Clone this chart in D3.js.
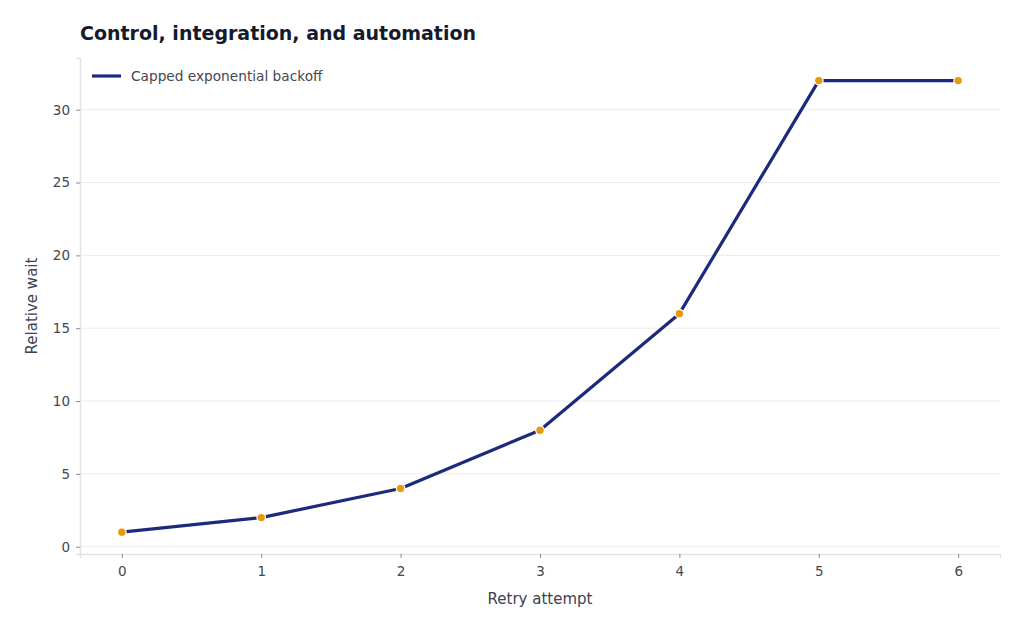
<!DOCTYPE html>
<html>
<head>
<meta charset="utf-8">
<script src="https://cdn.jsdelivr.net/npm/d3@7"></script>
<style>
  body { margin: 0; background: #fff; }
  svg { display: block; font-family: "DejaVu Sans", sans-serif; }
</style>
</head>
<body>
<div id="chart"></div>
<script>
// chart data
const attempts = [0, 1, 2, 3, 4, 5, 6];
const waits = [1, 2, 4, 8, 16, 32, 32];
const xTicks = [0, 1, 2, 3, 4, 5, 6];
const yTicks = [0, 5, 10, 15, 20, 25, 30];
const seriesName = 'Capped exponential backoff';

const W = 1024, H = 631;
const margin = { top: 58, right: 24, bottom: 77, left: 80 },
    width = W - margin.left - margin.right,
    height = H - margin.top - margin.bottom;

const svg = d3.select('#chart').append('svg')
    .attr('width', W)
    .attr('height', H);

svg.append('text')
    .attr('x', 80)
    .attr('y', 40)
    .attr('font-size', 19)
    .attr('font-weight', 'bold')
    .attr('fill', '#141b2d')
    .text('Control, integration, and automation');

const g = svg.append('g').attr('transform', `translate(${margin.left},${margin.top})`);

const x = d3.scaleLinear().domain([-0.3, 6.3]).range([0, width]);
const y = d3.scaleLinear().domain([-0.5, 33.55]).range([height, 0]);

// grid
g.append('g')
    .selectAll('line')
    .data(yTicks)
    .enter()
    .append('line')
    .attr('x1', 0)
    .attr('x2', width)
    .attr('y1', d => y(d))
    .attr('y2', d => y(d))
    .attr('stroke', '#ececec')
    .attr('stroke-width', 1);

// axes
const xAxis = g.append('g')
    .attr('transform', `translate(0,${height})`)
    .call(d3.axisBottom(x).tickValues(xTicks).tickFormat(d3.format('d')).tickSize(4).tickPadding(8));
const yAxis = g.append('g')
    .call(d3.axisLeft(y).tickValues(yTicks).tickFormat(d3.format('d')).tickSize(4).tickPadding(6));

[xAxis, yAxis].forEach(a => {
    a.select('.domain').attr('stroke', '#e3e3e6').attr('stroke-width', 1.5);
    a.selectAll('.tick line').attr('stroke', '#6b6f7a').attr('stroke-width', 0.8);
    a.selectAll('.tick text')
        .attr('font-family', '"DejaVu Sans", sans-serif')
        .attr('font-size', 13.5)
        .attr('fill', '#44474f');
});

// axis labels
svg.append('text')
    .attr('x', margin.left + width / 2)
    .attr('y', 604)
    .attr('text-anchor', 'middle')
    .attr('font-size', 15)
    .attr('fill', '#3d4150')
    .text('Retry attempt');

svg.append('text')
    .attr('transform', `translate(37,${margin.top + height / 2}) rotate(-90)`)
    .attr('text-anchor', 'middle')
    .attr('font-size', 15)
    .attr('fill', '#3d4150')
    .text('Relative wait');

// line
const line = d3.line()
    .x((d, i) => x(attempts[i]))
    .y(d => y(d));

g.append('path')
    .datum(waits)
    .attr('fill', 'none')
    .attr('stroke', '#1c2a7d')
    .attr('stroke-width', 3.2)
    .attr('stroke-linejoin', 'round')
    .attr('d', line);

g.selectAll('.pt')
    .data(waits)
    .enter()
    .append('circle')
    .attr('class', 'pt')
    .attr('cx', (d, i) => x(attempts[i]))
    .attr('cy', d => y(d))
    .attr('r', 4.3)
    .attr('fill', '#e89a0e')
    .attr('stroke', '#fff')
    .attr('stroke-width', 1.2);

// legend
const leg = svg.append('g').attr('transform', 'translate(92,76)');
leg.append('line')
    .attr('x1', 0).attr('x2', 29)
    .attr('stroke', '#1c2a7d')
    .attr('stroke-width', 3.2);
leg.append('text')
    .attr('x', 39)
    .attr('y', 5)
    .attr('font-size', 13.7)
    .attr('fill', '#44474f')
    .text(seriesName);
</script>
</body>
</html>
